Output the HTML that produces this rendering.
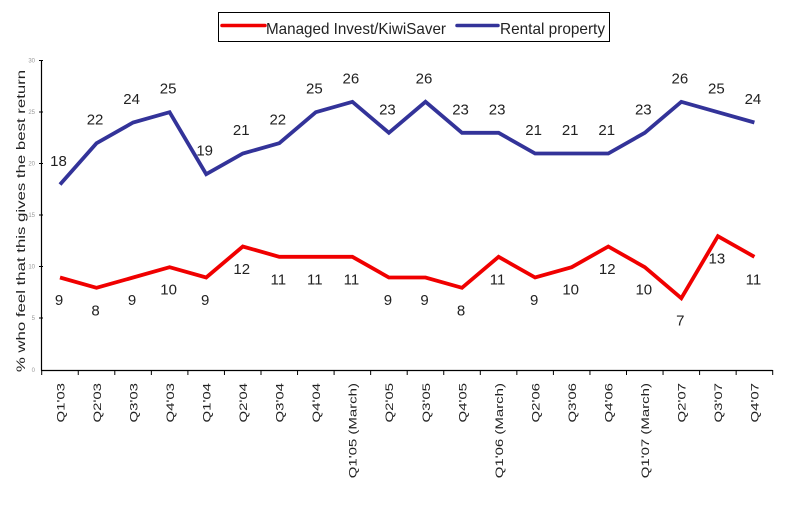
<!DOCTYPE html>
<html>
<head>
<meta charset="utf-8">
<style>
  html, body { margin: 0; padding: 0; background: #ffffff; }
  svg { display: block; }
  text { font-family: "Liberation Sans", Arial, sans-serif; }
</style>
</head>
<body>
<svg width="800" height="513" viewBox="0 0 800 513" xmlns="http://www.w3.org/2000/svg">
  <rect x="0" y="0" width="800" height="513" fill="#ffffff"/>

  <!-- Legend -->
  <rect x="218.5" y="12.5" width="391" height="29" fill="#ffffff" stroke="#000" stroke-width="1"/>
  <line x1="222" y1="25.5" x2="265" y2="25.5" stroke="#f00000" stroke-width="3.5" stroke-linecap="round"/>
  <text x="266" y="34" font-size="16" fill="#222" textLength="180" lengthAdjust="spacingAndGlyphs">Managed Invest/KiwiSaver</text>
  <line x1="457" y1="25.5" x2="498" y2="25.5" stroke="#333399" stroke-width="3.5" stroke-linecap="round"/>
  <text x="500" y="34" font-size="16" fill="#222" textLength="105" lengthAdjust="spacingAndGlyphs">Rental property</text>

  <!-- Axes -->
  <line x1="41.5" y1="60" x2="41.5" y2="370.5" stroke="#000" stroke-width="1.2"/>
  <line x1="41" y1="370.5" x2="772.5" y2="370.5" stroke="#000" stroke-width="1.2"/>
  <g stroke="#000" stroke-width="1">
    <line x1="39" y1="60.5" x2="43" y2="60.5"/>
    <line x1="39" y1="112" x2="43" y2="112"/>
    <line x1="39" y1="163.5" x2="43" y2="163.5"/>
    <line x1="39" y1="215" x2="43" y2="215"/>
    <line x1="39" y1="266.5" x2="43" y2="266.5"/>
    <line x1="39" y1="318" x2="43" y2="318"/>
  </g>
  <g fill="#999" font-size="6" text-anchor="end">
    <text x="35" y="62.5">30</text>
    <text x="35" y="114">25</text>
    <text x="35" y="165.5">20</text>
    <text x="35" y="217">15</text>
    <text x="35" y="268.5">10</text>
    <text x="35" y="320">5</text>
    <text x="35" y="372">0</text>
  </g>
  <g stroke="#000" stroke-width="1" id="xticks"></g>

  <!-- Y axis title -->
  <text transform="translate(21,221) rotate(-90) scale(1,0.72)" text-anchor="middle" dy="0.35em" font-size="16.8" fill="#222">% who feel that this gives the best return</text>

  <g id="plot"></g>
</svg>
<script>
(function(){
  var NS = "http://www.w3.org/2000/svg";
  var red = [9,8,9,10,9,12,11,11,11,9,9,8,11,9,10,12,10,7,13,11];
  var blue = [18,22,24,25,19,21,22,25,26,23,26,23,23,21,21,21,23,26,25,24];
  var cats = ["Q1'03","Q2'03","Q3'03","Q4'03","Q1'04","Q2'04","Q3'04","Q4'04","Q1'05 (March)","Q2'05","Q3'05","Q4'05","Q1'06 (March)","Q2'06","Q3'06","Q4'06","Q1'07 (March)","Q2'07","Q3'07","Q4'07"];
  var step = 36.55;
  function X(i){ return 60 + step*i; }
  function Y(v){ return 370.5 - v*10.333; }
  var ticks = document.getElementById("xticks");
  for (var k=0;k<=20;k++){
    var l = document.createElementNS(NS,"line");
    var tx = 41.7 + step*k;
    l.setAttribute("x1",tx); l.setAttribute("x2",tx);
    l.setAttribute("y1",370); l.setAttribute("y2",375);
    ticks.appendChild(l);
  }
  var plot = document.getElementById("plot");
  function poly(data,color){
    var pts = data.map(function(v,i){ return X(i).toFixed(1)+","+Y(v).toFixed(1); }).join(" ");
    var p = document.createElementNS(NS,"polyline");
    p.setAttribute("points",pts);
    p.setAttribute("fill","none");
    p.setAttribute("stroke",color);
    p.setAttribute("stroke-width","3.8");
    p.setAttribute("stroke-linejoin","miter");
    plot.appendChild(p);
  }
  poly(blue,"#333399");
  poly(red,"#f00000");
  function label(x,y,t){
    var e = document.createElementNS(NS,"text");
    e.setAttribute("x",x); e.setAttribute("y",y);
    e.setAttribute("text-anchor","middle");
    e.setAttribute("font-size","15");
    e.setAttribute("fill","#222");
    e.textContent = t;
    plot.appendChild(e);
  }
  for (var i=0;i<20;i++){
    label(X(i)-1.5, Y(blue[i])-18.5, String(blue[i]));
    label(X(i)-1, Y(red[i])+27.5, String(red[i]));
    var c = document.createElementNS(NS,"text");
    c.setAttribute("transform","translate("+(X(i)+0.5).toFixed(1)+",383) rotate(-90) scale(1,0.72)");
    c.setAttribute("text-anchor","end");
    c.setAttribute("dy","0.35em");
    c.setAttribute("font-size","15");
    c.setAttribute("fill","#222");
    c.textContent = cats[i];
    plot.appendChild(c);
  }
})();
</script>
</body>
</html>
